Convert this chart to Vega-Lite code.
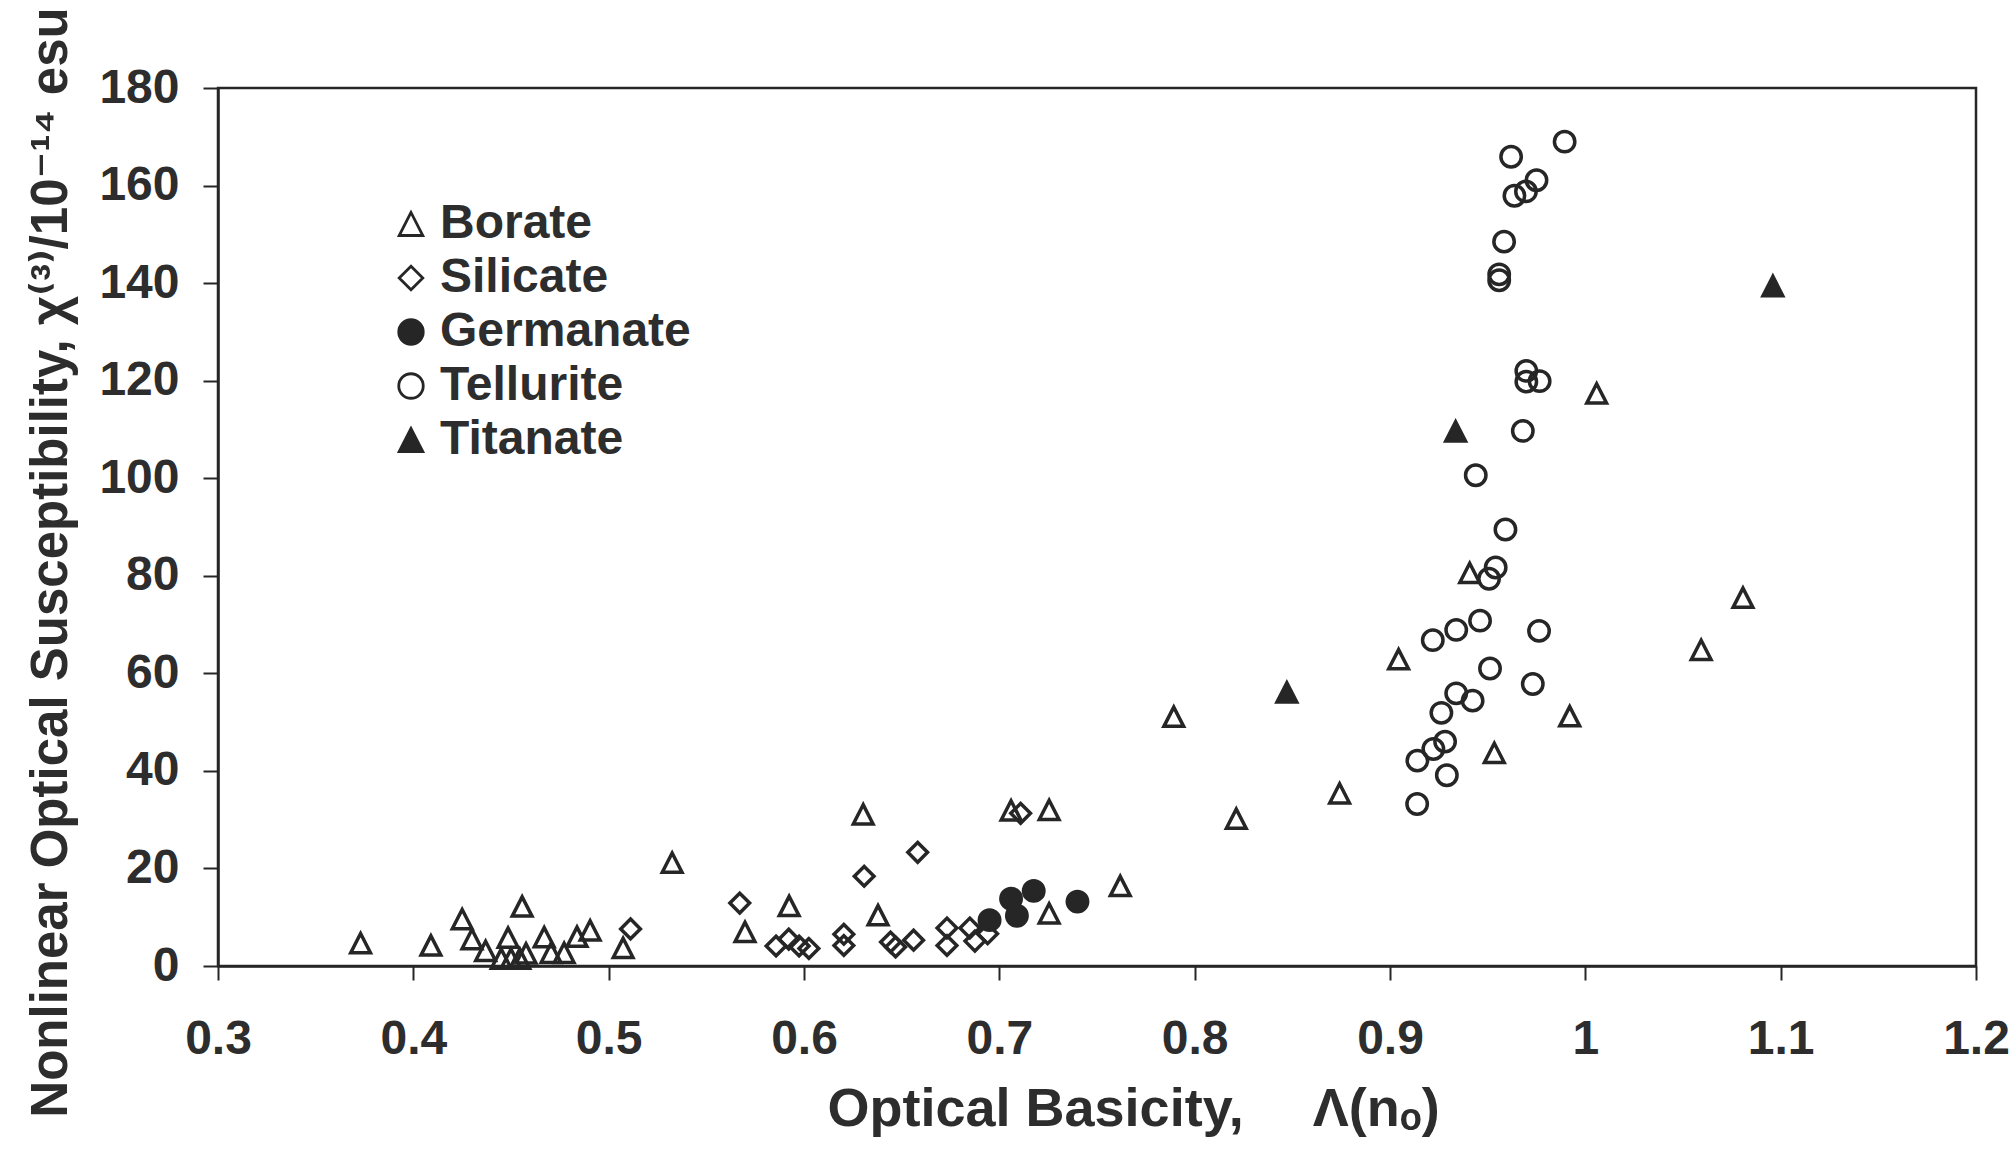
{
  "$schema": "https://vega.github.io/schema/vega-lite/v6.json",
  "width": 1758,
  "height": 878,
  "autosize": {"type": "none"},
  "padding": {"left": 218, "top": 88, "right": 35, "bottom": 184},
  "background": "white",
  "config": {
    "view": {"stroke": "#262626", "strokeWidth": 2.5},
    "font": "Liberation Sans",
    "axis": {
      "grid": false,
      "domainColor": "#262626",
      "domainWidth": 2.5,
      "tickColor": "#262626",
      "tickWidth": 2,
      "labelFont": "Liberation Sans",
      "labelFontWeight": "bold",
      "labelFontSize": 48,
      "labelColor": "#2d2d2d",
      "titleFont": "Liberation Sans, DejaVu Sans",
      "titleFontWeight": "bold",
      "titleFontSize": 54,
      "titleColor": "#2d2d2d",
      "labelFlush": false,
      "labelOverlap": false
    },
    "legend": {
      "padding": 0,
      "title": null,
      "orient": "none",
      "legendX": 169,
      "legendY": 112,
      "labelFont": "Liberation Sans",
      "labelFontWeight": "bold",
      "labelFontSize": 48,
      "labelColor": "#2d2d2d",
      "labelLimit": 500,
      "labelOffset": 5,
      "rowPadding": 6,
      "symbolSize": 830,
      "symbolStrokeWidth": 2.8
    }
  },
  "data": {
    "values": [
      {"glass": "Borate", "basicity": 0.373, "chi3": 4.7},
      {"glass": "Borate", "basicity": 0.409, "chi3": 4.2},
      {"glass": "Borate", "basicity": 0.425, "chi3": 9.6},
      {"glass": "Borate", "basicity": 0.430, "chi3": 5.5},
      {"glass": "Borate", "basicity": 0.437, "chi3": 3.1},
      {"glass": "Borate", "basicity": 0.445, "chi3": 1.5},
      {"glass": "Borate", "basicity": 0.4485, "chi3": 5.8},
      {"glass": "Borate", "basicity": 0.450, "chi3": 1.5},
      {"glass": "Borate", "basicity": 0.4545, "chi3": 1.5},
      {"glass": "Borate", "basicity": 0.4557, "chi3": 12.2},
      {"glass": "Borate", "basicity": 0.4577, "chi3": 2.6},
      {"glass": "Borate", "basicity": 0.467, "chi3": 5.9},
      {"glass": "Borate", "basicity": 0.4705, "chi3": 2.7},
      {"glass": "Borate", "basicity": 0.4772, "chi3": 2.7},
      {"glass": "Borate", "basicity": 0.4838, "chi3": 6.0},
      {"glass": "Borate", "basicity": 0.4905, "chi3": 7.3},
      {"glass": "Borate", "basicity": 0.5074, "chi3": 3.7},
      {"glass": "Borate", "basicity": 0.5325, "chi3": 21.2},
      {"glass": "Borate", "basicity": 0.5698, "chi3": 7.0},
      {"glass": "Borate", "basicity": 0.5924, "chi3": 12.3},
      {"glass": "Borate", "basicity": 0.6303, "chi3": 31.1},
      {"glass": "Borate", "basicity": 0.6379, "chi3": 10.4},
      {"glass": "Borate", "basicity": 0.706, "chi3": 31.9},
      {"glass": "Borate", "basicity": 0.7255, "chi3": 32.0},
      {"glass": "Borate", "basicity": 0.7255, "chi3": 10.8},
      {"glass": "Borate", "basicity": 0.7619, "chi3": 16.4},
      {"glass": "Borate", "basicity": 0.7893, "chi3": 51.1},
      {"glass": "Borate", "basicity": 0.8213, "chi3": 30.2},
      {"glass": "Borate", "basicity": 0.8742, "chi3": 35.4},
      {"glass": "Borate", "basicity": 0.9044, "chi3": 62.9},
      {"glass": "Borate", "basicity": 0.9408, "chi3": 80.6},
      {"glass": "Borate", "basicity": 0.9534, "chi3": 43.7},
      {"glass": "Borate", "basicity": 0.992, "chi3": 51.2},
      {"glass": "Borate", "basicity": 1.0058, "chi3": 117.4},
      {"glass": "Borate", "basicity": 1.0593, "chi3": 64.8},
      {"glass": "Borate", "basicity": 1.0807, "chi3": 75.5},
      {"glass": "Silicate", "basicity": 0.5112, "chi3": 7.6},
      {"glass": "Silicate", "basicity": 0.5671, "chi3": 12.9},
      {"glass": "Silicate", "basicity": 0.5857, "chi3": 4.1},
      {"glass": "Silicate", "basicity": 0.5922, "chi3": 5.5},
      {"glass": "Silicate", "basicity": 0.5975, "chi3": 4.1},
      {"glass": "Silicate", "basicity": 0.6025, "chi3": 3.6},
      {"glass": "Silicate", "basicity": 0.6204, "chi3": 6.5},
      {"glass": "Silicate", "basicity": 0.6204, "chi3": 4.2},
      {"glass": "Silicate", "basicity": 0.6308, "chi3": 18.4},
      {"glass": "Silicate", "basicity": 0.6443, "chi3": 4.9},
      {"glass": "Silicate", "basicity": 0.6469, "chi3": 3.9},
      {"glass": "Silicate", "basicity": 0.6561, "chi3": 5.3},
      {"glass": "Silicate", "basicity": 0.6582, "chi3": 23.3},
      {"glass": "Silicate", "basicity": 0.6732, "chi3": 7.8},
      {"glass": "Silicate", "basicity": 0.6732, "chi3": 4.2},
      {"glass": "Silicate", "basicity": 0.6849, "chi3": 7.8},
      {"glass": "Silicate", "basicity": 0.6875, "chi3": 5.1},
      {"glass": "Silicate", "basicity": 0.694, "chi3": 6.6},
      {"glass": "Silicate", "basicity": 0.7109, "chi3": 31.3},
      {"glass": "Germanate", "basicity": 0.695, "chi3": 9.4},
      {"glass": "Germanate", "basicity": 0.706, "chi3": 13.8},
      {"glass": "Germanate", "basicity": 0.709, "chi3": 10.3},
      {"glass": "Germanate", "basicity": 0.7176, "chi3": 15.4},
      {"glass": "Germanate", "basicity": 0.740, "chi3": 13.2},
      {"glass": "Tellurite", "basicity": 0.9894, "chi3": 169.0},
      {"glass": "Tellurite", "basicity": 0.962, "chi3": 165.9},
      {"glass": "Tellurite", "basicity": 0.975, "chi3": 161.1},
      {"glass": "Tellurite", "basicity": 0.9696, "chi3": 158.8},
      {"glass": "Tellurite", "basicity": 0.9637, "chi3": 157.9},
      {"glass": "Tellurite", "basicity": 0.9584, "chi3": 148.5},
      {"glass": "Tellurite", "basicity": 0.9559, "chi3": 141.8},
      {"glass": "Tellurite", "basicity": 0.9559, "chi3": 140.6},
      {"glass": "Tellurite", "basicity": 0.9698, "chi3": 122.0},
      {"glass": "Tellurite", "basicity": 0.9698, "chi3": 119.8},
      {"glass": "Tellurite", "basicity": 0.9766, "chi3": 119.9},
      {"glass": "Tellurite", "basicity": 0.968, "chi3": 109.7},
      {"glass": "Tellurite", "basicity": 0.9439, "chi3": 100.6},
      {"glass": "Tellurite", "basicity": 0.9591, "chi3": 89.5},
      {"glass": "Tellurite", "basicity": 0.9541, "chi3": 81.7},
      {"glass": "Tellurite", "basicity": 0.9507, "chi3": 79.4},
      {"glass": "Tellurite", "basicity": 0.9461, "chi3": 70.8},
      {"glass": "Tellurite", "basicity": 0.9339, "chi3": 68.9},
      {"glass": "Tellurite", "basicity": 0.9219, "chi3": 66.8},
      {"glass": "Tellurite", "basicity": 0.9763, "chi3": 68.7},
      {"glass": "Tellurite", "basicity": 0.9512, "chi3": 61.0},
      {"glass": "Tellurite", "basicity": 0.9731, "chi3": 57.8},
      {"glass": "Tellurite", "basicity": 0.9339, "chi3": 55.9},
      {"glass": "Tellurite", "basicity": 0.9423, "chi3": 54.4},
      {"glass": "Tellurite", "basicity": 0.9263, "chi3": 51.9},
      {"glass": "Tellurite", "basicity": 0.9282, "chi3": 46.0},
      {"glass": "Tellurite", "basicity": 0.9222, "chi3": 44.5},
      {"glass": "Tellurite", "basicity": 0.914, "chi3": 42.1},
      {"glass": "Tellurite", "basicity": 0.9291, "chi3": 39.1},
      {"glass": "Tellurite", "basicity": 0.9139, "chi3": 33.2},
      {"glass": "Titanate", "basicity": 0.8472, "chi3": 56.1},
      {"glass": "Titanate", "basicity": 0.9336, "chi3": 109.6},
      {"glass": "Titanate", "basicity": 1.096, "chi3": 139.4}
    ]
  },
  "mark": {"type": "point", "filled": true, "strokeWidth": 3.5, "size": 576, "opacity": 1},
  "encoding": {
    "x": {
      "field": "basicity",
      "type": "quantitative",
      "scale": {"domain": [0.3, 1.2], "nice": false, "zero": false},
      "axis": {
        "values": [0.3, 0.4, 0.5, 0.6, 0.7, 0.8, 0.9, 1.0, 1.1, 1.2],
        "format": ".1~f",
        "tickSize": 14,
        "labelPadding": 35,
        "title": "Optical Basicity,\u2003 Λ(nₒ)",
        "titleX": 609,
        "titleY": 159,
        "titleAlign": "left",
        "titleBaseline": "alphabetic",
        "titleAnchor": "start"
      }
    },
    "y": {
      "field": "chi3",
      "type": "quantitative",
      "scale": {"domain": [0, 180], "nice": false},
      "axis": {
        "values": [0, 20, 40, 60, 80, 100, 120, 140, 160, 180],
        "tickSize": 15,
        "labelPadding": 24,
        "title": "Nonlinear Optical Susceptibility, χ⁽³⁾/10⁻¹⁴ esu",
        "titleFontSize": 51,
        "titleAngle": 270,
        "titleX": -167,
        "titleY": 474,
        "titleAlign": "center",
        "titleBaseline": "middle"
      }
    },
    "shape": {
      "field": "glass",
      "type": "nominal",
      "scale": {
        "domain": ["Borate", "Silicate", "Germanate", "Tellurite", "Titanate"],
        "range": [
          "M0,-0.8L-0.82,0.8L0.82,0.8Z",
          "M0,-0.82L-0.82,0L0,0.82L0.82,0Z",
          "M-0.85,0A0.85,0.85 0 1,0 0.85,0A0.85,0.85 0 1,0 -0.85,0Z",
          "M-0.85,0A0.85,0.85 0 1,0 0.85,0A0.85,0.85 0 1,0 -0.85,0Z",
          "M0,-0.8L-0.82,0.8L0.82,0.8Z"
        ]
      }
    },
    "fill": {
      "field": "glass",
      "type": "nominal",
      "scale": {
        "domain": ["Borate", "Silicate", "Germanate", "Tellurite", "Titanate"],
        "range": ["transparent", "transparent", "#262626", "transparent", "#262626"]
      }
    },
    "stroke": {
      "field": "glass",
      "type": "nominal",
      "scale": {
        "domain": ["Borate", "Silicate", "Germanate", "Tellurite", "Titanate"],
        "range": ["#262626", "#262626", "#262626", "#262626", "#262626"]
      }
    }
  }
}
